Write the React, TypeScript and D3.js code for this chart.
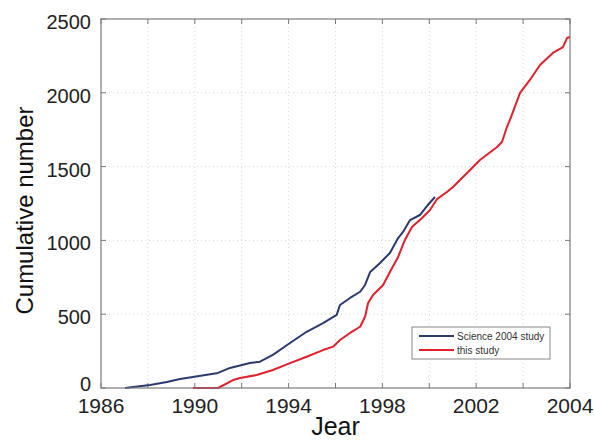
import React from "react";
import * as d3 from "d3";

const xTickValues = [1986, 1988, 1990, 1992, 1994, 1996, 1998, 2000, 2002, 2004, 2006];
const xLabelValues = [1986, 1990, 1994, 1998, 2002, 2006];
const xLabelTexts = ["1986", "1990", "1994", "1998", "2002", "2004"];
const yTickValues = [0, 500, 1000, 1500, 2000, 2500];

const scienceYears = [1987.02, 1988.09, 1988.81, 1989.37, 1989.92, 1990.99, 1991.5, 1992.35, 1992.78, 1993.33, 1994.06, 1994.77, 1995.47, 1996.05, 1996.19, 1996.62, 1997.05, 1997.26, 1997.48, 1997.9, 1998.32, 1998.67, 1998.88, 1999.18, 1999.6, 1999.94, 2000.24];
const scienceValues = [0, 20, 41, 61, 75, 102, 136, 169, 178, 224, 305, 381, 440, 495, 562, 610, 652, 698, 786, 847, 915, 1016, 1057, 1138, 1172, 1240, 1294];

const thisYears = [1989.92, 1990.99, 1991.63, 1991.93, 1992.64, 1993.33, 1994.06, 1994.77, 1995.47, 1995.9, 1996.19, 1996.62, 1997.05, 1997.26, 1997.39, 1997.6, 1998.03, 1998.32, 1998.67, 1998.96, 1999.26, 1999.69, 2000.03, 2000.33, 2000.75, 2001.01, 2001.61, 2002.16, 2002.89, 2003.1, 2003.31, 2003.44, 2003.87, 2004.29, 2004.72, 2005.27, 2005.7, 2005.87, 2006.0];
const thisValues = [0, 0, 54, 68, 88, 122, 169, 212, 257, 280, 325, 373, 415, 483, 576, 630, 698, 786, 888, 1003, 1091, 1152, 1206, 1280, 1328, 1362, 1457, 1545, 1633, 1667, 1768, 1816, 1999, 2087, 2188, 2270, 2310, 2371, 2378];

const seriesNames = ["Science 2004 study", "this study"];
const seriesColors = ["#2a3a70", "#e0202c"];

const W = 595;
const H = 441;
const left = 101;
const right = 570;
const top = 19;
const bottom = 388;
const font = "'Liberation Sans', Arial, sans-serif";

export default function App() {
  const x = d3.scaleLinear().domain([1986, 2006]).range([left, right]);
  const y = d3.scaleLinear().domain([0, 2500]).range([bottom, top]);
  const line = d3
    .line<[number, number]>()
    .x((d) => x(d[0]))
    .y((d) => y(d[1]));
  const sci: [number, number][] = scienceYears.map((yr, i) => [yr, scienceValues[i]]);
  const ths: [number, number][] = thisYears.map((yr, i) => [yr, thisValues[i]]);
  const axisColor = "#7a7a7a";
  const gridColor = "#d8d8d8";
  const tl = 5;

  return (
    <svg width={W} height={H} style={{ position: "absolute", left: 0, top: 0 }} fontFamily={font}>
      <rect x={0} y={0} width={W} height={H} fill="#ffffff" />
      {xTickValues.slice(1, -1).map((v) => (
        <line key={"gx" + v} x1={x(v)} x2={x(v)} y1={top} y2={bottom} stroke={gridColor} strokeWidth={1} strokeDasharray="1,3" />
      ))}
      {yTickValues.slice(1, -1).map((v) => (
        <line key={"gy" + v} x1={left} x2={right} y1={y(v)} y2={y(v)} stroke={gridColor} strokeWidth={1} strokeDasharray="1,3" />
      ))}
      {xTickValues.map((v) => (
        <g key={"tx" + v}>
          <line x1={x(v)} x2={x(v)} y1={bottom} y2={bottom - tl} stroke={axisColor} />
          <line x1={x(v)} x2={x(v)} y1={top} y2={top + tl} stroke={axisColor} />
        </g>
      ))}
      {yTickValues.map((v) => (
        <g key={"ty" + v}>
          <line x1={left} x2={left + tl} y1={y(v)} y2={y(v)} stroke={axisColor} />
          <line x1={right} x2={right - tl} y1={y(v)} y2={y(v)} stroke={axisColor} />
        </g>
      ))}
      <path d={line(sci) || ""} fill="none" stroke={seriesColors[0]} strokeWidth={2} strokeLinejoin="round" />
      <path d={line(ths) || ""} fill="none" stroke={seriesColors[1]} strokeWidth={2} strokeLinejoin="round" />
      <rect x={left} y={top} width={right - left} height={bottom - top} fill="none" stroke={axisColor} strokeWidth={1.2} />
      {xLabelValues.map((v, i) => (
        <text key={"lx" + v} x={x(v)} y={413} textAnchor="middle" fontSize={21} fill="#222">
          {xLabelTexts[i]}
        </text>
      ))}
      {yTickValues.map((v, i) => (
        <text key={"ly" + v} x={91} y={y(v) + (i === 0 ? 3 : 10)} textAnchor="end" fontSize={20} fill="#222">
          {String(v)}
        </text>
      ))}
      <text x={(left + right) / 2} y={435} textAnchor="middle" fontSize={25} fill="#111">
        Jear
      </text>
      <text transform={`translate(33,${(top + bottom) / 2 + 7}) rotate(-90)`} textAnchor="middle" fontSize={24} fill="#111">
        Cumulative number
      </text>
      <rect x={412} y={327} width={138} height={32} fill="#ffffff" stroke="#888" strokeWidth={1} />
      {seriesNames.map((n, i) => (
        <g key={n}>
          <line x1={419} x2={454} y1={336 + i * 14} y2={336 + i * 14} stroke={seriesColors[i]} strokeWidth={2} />
          <text x={457} y={339.5 + i * 14} fontSize={10} fill="#333">
            {n}
          </text>
        </g>
      ))}
    </svg>
  );
}
